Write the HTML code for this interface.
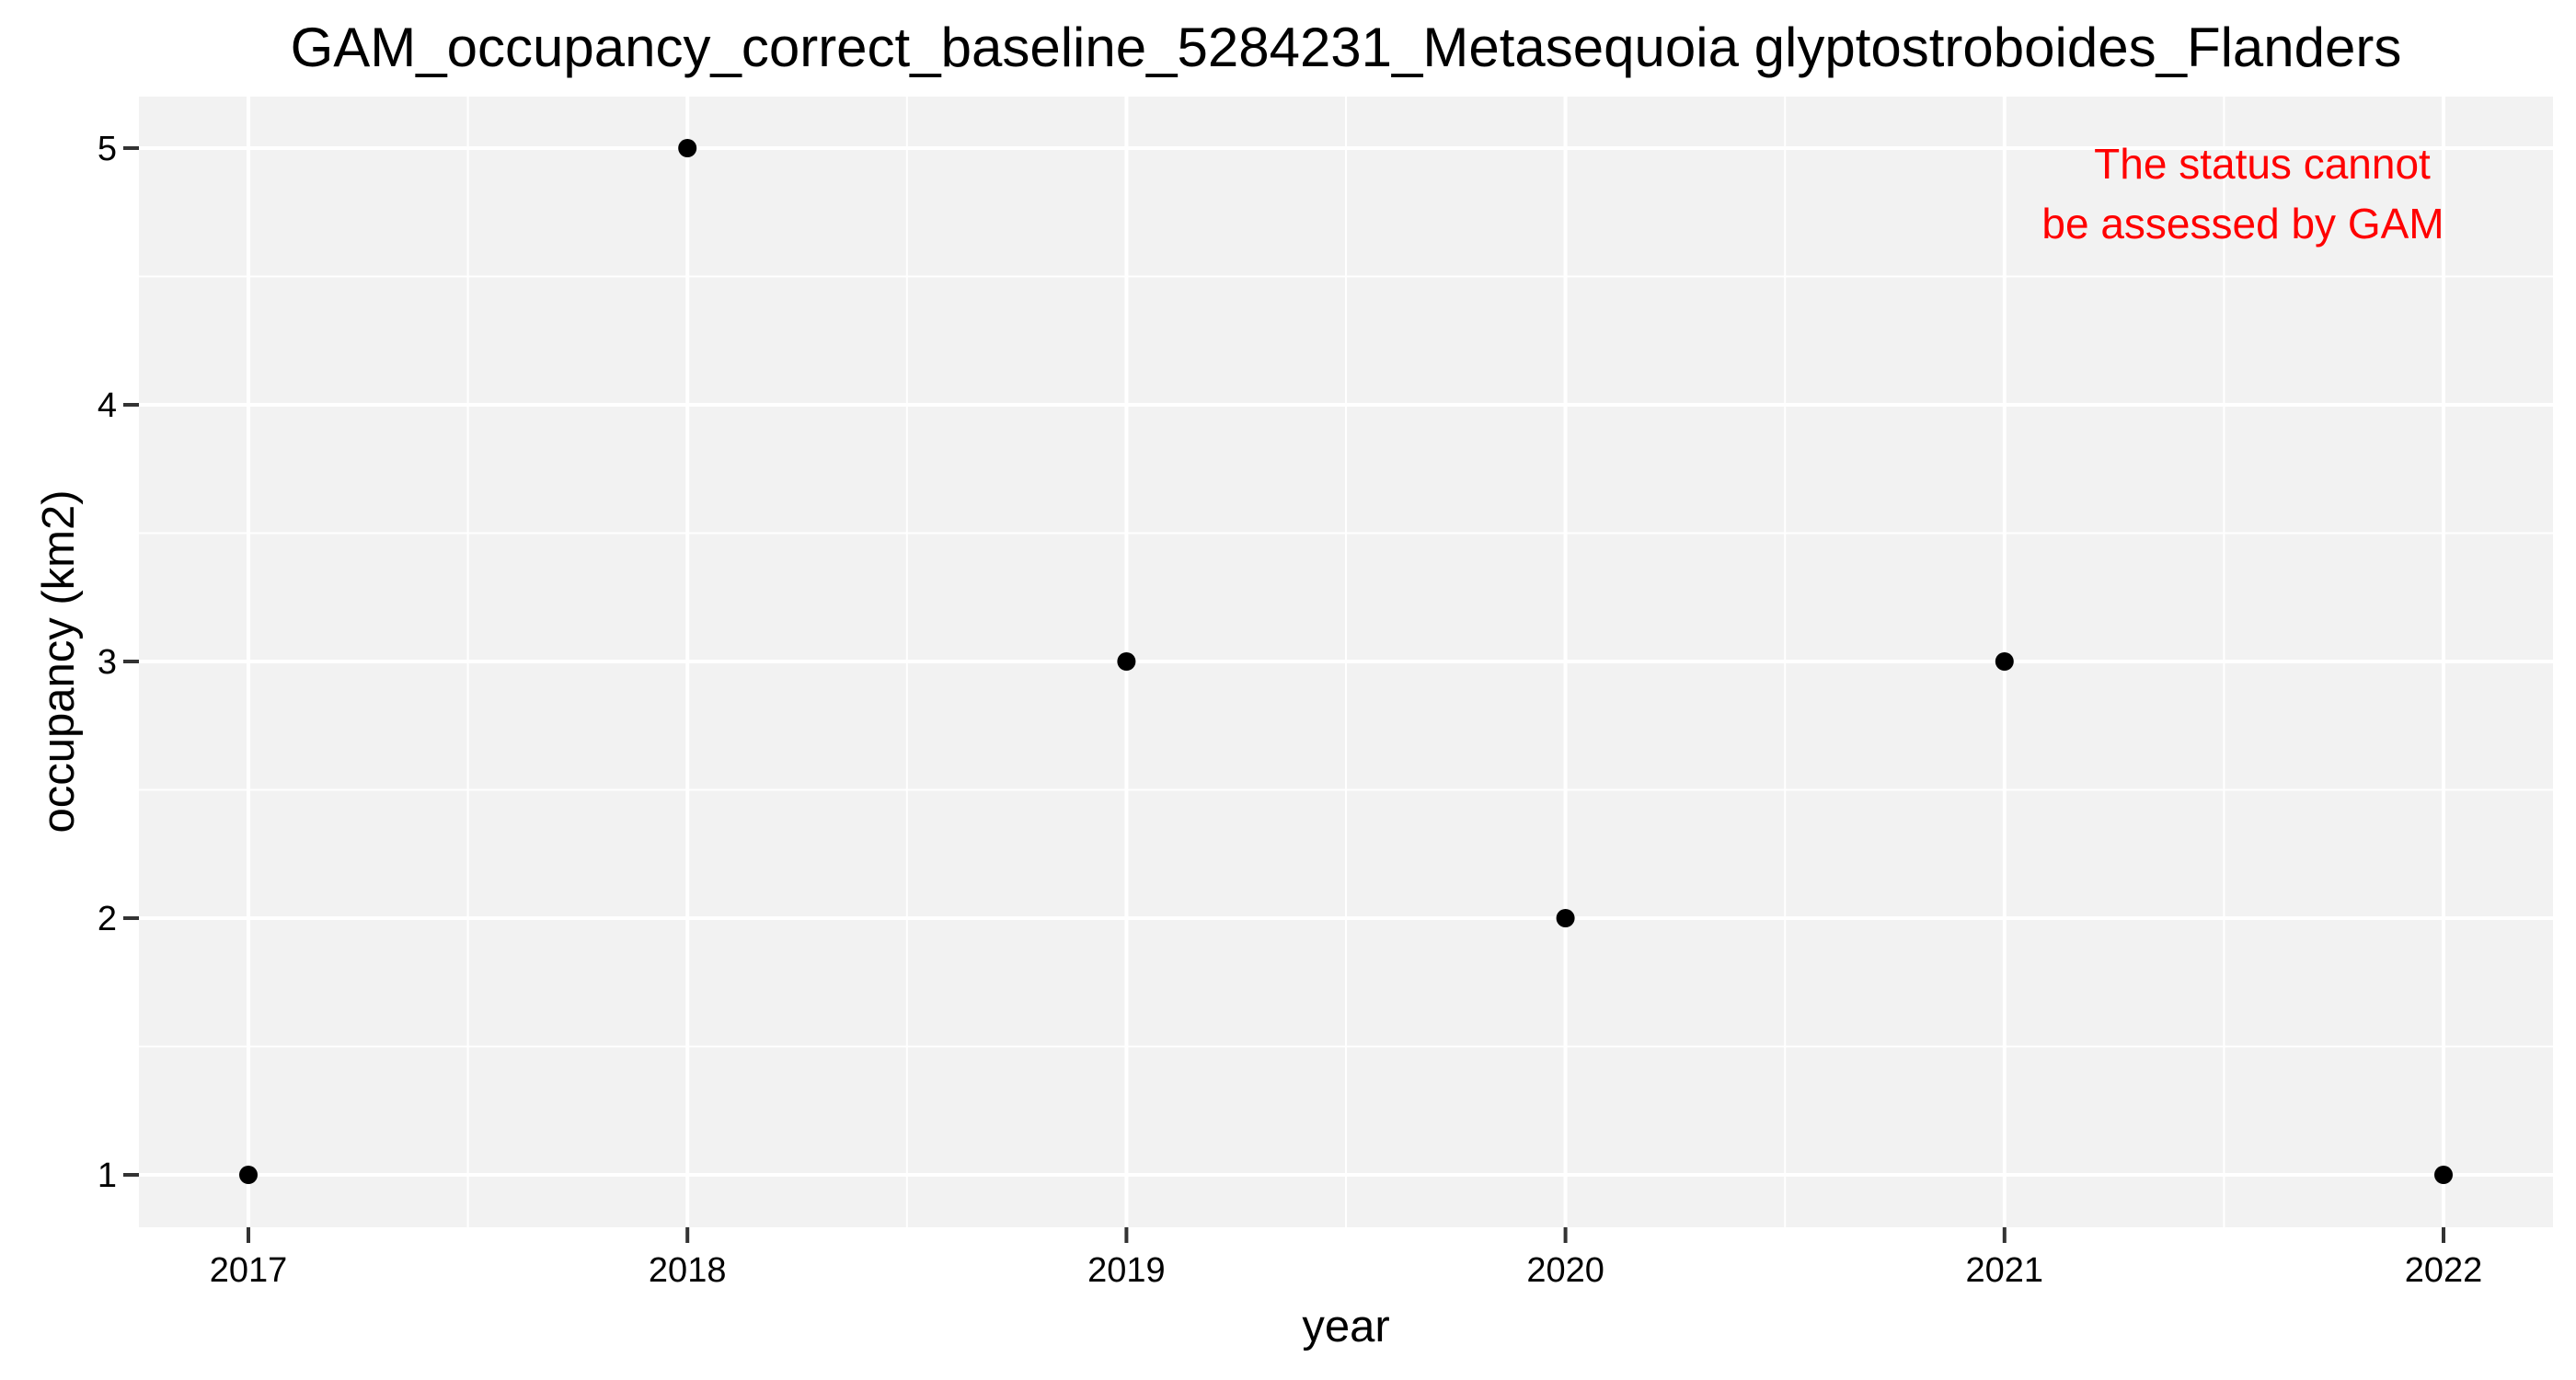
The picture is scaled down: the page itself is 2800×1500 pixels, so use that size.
<!DOCTYPE html>
<html><head><meta charset="utf-8"><style>html,body{margin:0;padding:0;background:#fff}svg{display:block}text{font-family:"Liberation Sans",Arial,sans-serif}</style></head>
<body>
<svg id="chart" width="2800" height="1500" xmlns="http://www.w3.org/2000/svg">
<rect width="2800" height="1500" fill="#fff"/>
<text x="1463" y="72" font-size="60" text-anchor="middle" fill="#000">GAM_occupancy_correct_baseline_5284231_Metasequoia glyptostroboides_Flanders</text>
<rect x="151" y="105" width="2624" height="1229" fill="#f2f2f2"/>
<g id="grid"></g><g id="axes"></g><g id="points"></g>
<text x="2459" y="194" font-size="46" text-anchor="middle" fill="#ff0000">The status cannot</text>
<text x="2438" y="259" font-size="46" text-anchor="middle" fill="#ff0000">be assessed by GAM</text>
<text x="1463" y="1458" font-size="49" text-anchor="middle" fill="#000">year</text>
<text x="80" y="719" font-size="49" text-anchor="middle" fill="#000" transform="rotate(-90 80 719)">occupancy (km2)</text>
</svg>
<script>
const years = [2017, 2018, 2019, 2020, 2021, 2022];
const occupancy = [1, 5, 3, 2, 3, 1];
const xTicks = [2017, 2018, 2019, 2020, 2021, 2022];
const yTicks = [1, 2, 3, 4, 5];

const NS = "http://www.w3.org/2000/svg";
const PL = 151, PR = 2775, PT = 105, PB = 1334;
function xs(v){ return 270 + (v - 2017) * (2656 - 270) / 5; }
function ys(v){ return 1277 - (v - 1) * (1277 - 161) / 4; }
function mk(tag, attrs, parent){ const e = document.createElementNS(NS, tag); for (const k in attrs) e.setAttribute(k, attrs[k]); parent.appendChild(e); return e; }
const grid = document.getElementById('grid'), axes = document.getElementById('axes'), pts = document.getElementById('points');
for (let i = 0; i < yTicks.length - 1; i++) {
  const y = ys((yTicks[i] + yTicks[i+1]) / 2);
  const l = mk('line', {x1: PL, x2: PR, y1: y, y2: y, stroke: '#fff', 'stroke-width': 2}, grid);
  
  
}
for (let i = 0; i < xTicks.length - 1; i++) {
  const x = xs((xTicks[i] + xTicks[i+1]) / 2);
  const l = mk('line', {x1: x, x2: x, y1: PT, y2: PB, stroke: '#fff', 'stroke-width': 2}, grid);
  
  
}
yTicks.forEach(v => {
  const y = ys(v);
  const l = mk('line', {x1: PL, x2: PR, y1: y, y2: y, stroke: '#fff', 'stroke-width': 4}, grid);
  
  
  const t = mk('line', {x1: PL - 17, x2: PL, y1: y, y2: y, stroke: '#333', 'stroke-width': 4}, axes);
  
  
  const tx = mk('text', {x: PL - 24, y: y + 13, 'font-size': 38, 'text-anchor': 'end', fill: '#000'}, axes);
  tx.textContent = v;
  
  
});
xTicks.forEach(v => {
  const x = xs(v);
  const l = mk('line', {x1: x, x2: x, y1: PT, y2: PB, stroke: '#fff', 'stroke-width': 4}, grid);
  
  
  const t = mk('line', {x1: x, x2: x, y1: PB, y2: PB + 17, stroke: '#333', 'stroke-width': 4}, axes);
  
  
  const tx = mk('text', {x: x, y: PB + 59, 'font-size': 38, 'text-anchor': 'middle', fill: '#000'}, axes);
  tx.textContent = v;
  
  
});
years.forEach((yr, i) => {
  const c = mk('circle', {cx: xs(yr), cy: ys(occupancy[i]), r: 10, fill: '#000'}, pts);
  
  
});
</script>
</body></html>
